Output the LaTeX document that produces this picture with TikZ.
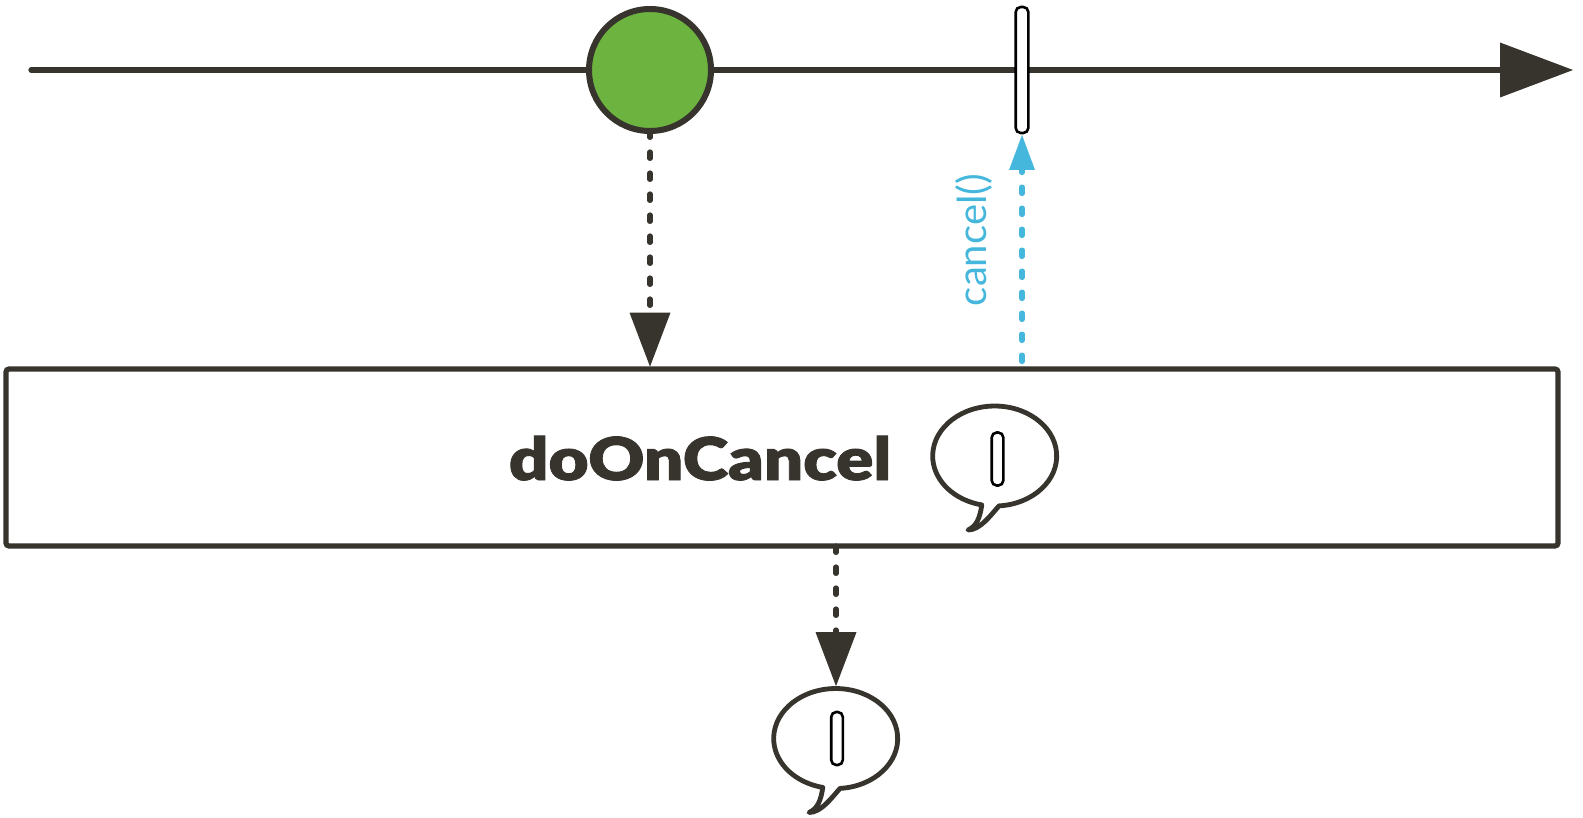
\documentclass[tikz,border=0pt]{standalone}
\usepackage{fontspec}
\usetikzlibrary{arrows.meta,shapes.geometric}
\setmainfont{Lato}
\newfontfamily\blackfont[FakeStretch=1.17,FakeBold=1.5]{Lato Black}
\definecolor{ink}{HTML}{37332D}
\definecolor{sky}{HTML}{45B7DC}
\definecolor{leaf}{HTML}{6DB33F}
\tikzset{
  x=0.5pt,y=-0.5pt,
  outline/.style={draw=ink,line width=2.6pt},
  emission/.style={draw=black,line width=1.3pt,fill=white,rounded corners=2.5pt,inner sep=0pt,outer sep=0pt},
  bubbleanchor/.style={ellipse,inner sep=0pt,outer sep=0pt,minimum width=62pt,minimum height=50pt},
  bubbleline/.style={draw=ink,line width=2.4pt,fill=white,line join=round},
  dotted line/.style={line width=2.6pt,line cap=round,dash pattern=on 3.2pt off 7.3pt},
  dark arrow/.style={dotted line,draw=ink,shorten >=1.2pt,-{Triangle[length=27pt,width=20.5pt,fill=ink,line width=0pt]}},
  sky arrow/.style={dotted line,draw=sky,dash phase=6.75pt,shorten >=1pt,-{Triangle[length=17.5pt,width=13pt,fill=sky,line width=0pt]}}
}
\newcommand{\speechpath}[1]{%
  \path[bubbleline,shift={(#1)}] (4,49.9) arc[start angle=86,end angle=-258,x radius=62,y radius=50]
    .. controls (-15,61) and (-18,70) .. (-27,74)
    .. controls (-15,74) and (-5,60) .. cycle;}
\begin{document}
\begin{tikzpicture}
\useasboundingbox (0,0) rectangle (1583,818);
\coordinate (lineStart) at (31,70);
\coordinate (lineEnd) at (1573,70);
\draw[outline,line cap=round,-{Triangle[length=36.5pt,width=27.5pt,fill=ink,line width=0pt]}] (lineStart) -- (lineEnd);
\node[circle,draw=ink,fill=leaf,line width=3pt,inner sep=0pt,outer sep=0pt,minimum size=61pt] (item) at (650,70) {};
\node[emission,minimum width=6.3pt,minimum height=63pt] (bar) at (1022,70) {};
\node[rectangle,outline,rounded corners=1.5pt,inner sep=0pt,outer sep=0pt,minimum width=776pt,minimum height=88.5pt] (box) at (782,457.5) {};
\node[anchor=base,inner sep=0pt,font=\blackfont\fontsize{29.5}{30}\selectfont,text=ink] (title) at (700,480) {doOnCancel};
\node[bubbleanchor] (bubA) at (995,456) {};
\node[bubbleanchor] (bubB) at (836,738.5) {};
\speechpath{bubA.center}
\speechpath{bubB.center}
\node[emission,minimum width=5.8pt,minimum height=26.5pt] (barA) at (997.5,459) {};
\node[emission,minimum width=5.8pt,minimum height=26.5pt] (barB) at (837,738.5) {};
\draw[dark arrow] (item.south) -- (item.south |- box.north);
\draw[sky arrow] (bar.south |- box.north) -- (bar.south);
\draw[dark arrow] (bubB.north |- box.south) -- (bubB.north);
\node[rotate=90,anchor=base west,inner sep=0pt,font=\fontsize{20}{20}\selectfont,text=sky] (cancel) at (986,306.5) {cancel()};
\end{tikzpicture}
\end{document}
